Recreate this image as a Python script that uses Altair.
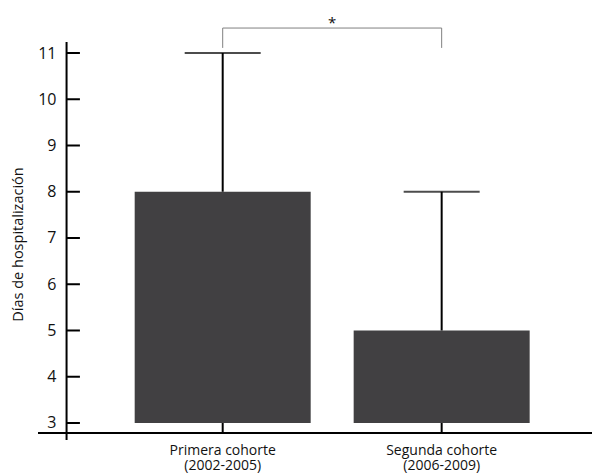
import altair as alt
import pandas as pd

categories = ["Primera cohorte", "Segunda cohorte"]
periods = ["(2002-2005)", "(2006-2009)"]
positions = [0, 1]
bar_base = [3, 3]
bar_top = [8, 5]
err_top = [11, 8]
y_ticks = [3, 4, 5, 6, 7, 8, 9, 10, 11]
sig_label = ["*"]
bracket_from = [0]
bracket_to = [1]
bracket_level = [11.54]
bracket_drop = [11.11]

Y_LO, Y_HI = 2.632, 11.238
X_LO, X_HI = -0.8206, 1.6637
AXIS_X = -0.713
AXIS_X_TICK_END = -0.652
AXIS_Y = 2.784
AXIS_Y_TICK_END = 3.0

df = pd.DataFrame({"pos": positions, "cat": categories, "per": periods,
                   "base": bar_base, "top": bar_top, "err": err_top})
ticks_df = pd.DataFrame({"t": y_ticks})
br = pd.DataFrame({"a": bracket_from, "b": bracket_to, "lvl": bracket_level,
                   "drop": bracket_drop, "lab": sig_label})
br["mid"] = (br["a"] + br["b"]) / 2
one = pd.DataFrame({"k": [0]})

xs = alt.Scale(domain=[X_LO, X_HI], nice=False, zero=False)
ys = alt.Scale(domain=[Y_LO, Y_HI], nice=False, zero=False)
FONT = "Open Sans"
INK = "#111111"

bars = alt.Chart(df).mark_bar(size=176, color="#414042").encode(
    x=alt.X("pos:Q", scale=xs, axis=None),
    y=alt.Y("base:Q", scale=ys, axis=alt.Axis(
        values=y_ticks, ticks=False, domain=False, grid=False, offset=-24,
        labelPadding=6, labelFontSize=16, labelFont=FONT, labelColor=INK,
        title="Días de hospitalización", titleFont=FONT, titleFontSize=14.5,
        titleFontWeight="normal", titleColor=INK, titleX=-37, titleY=202)),
    y2="top:Q",
)

err = alt.Chart(df).mark_rule(strokeWidth=2, color="black").encode(
    x="pos:Q", y="top:Q", y2="err:Q")
caps = alt.Chart(df).mark_tick(orient="horizontal", size=76, thickness=2,
                               color="black").encode(x="pos:Q", y="err:Q")

yaxis_line = alt.Chart(one).mark_rule(strokeWidth=2, color="black").encode(
    x=alt.X(datum=AXIS_X, type="quantitative"))
xaxis_line = alt.Chart(one).mark_rule(strokeWidth=2, color="black").encode(
    y=alt.Y(datum=AXIS_Y, type="quantitative"))
yticks = alt.Chart(ticks_df).mark_rule(strokeWidth=2, color="black").encode(
    y="t:Q", x=alt.X(datum=AXIS_X, type="quantitative"),
    x2=alt.X2(datum=AXIS_X_TICK_END))
xticks = alt.Chart(df).mark_rule(strokeWidth=2, color="black").encode(
    x="pos:Q", y=alt.Y(datum=AXIS_Y, type="quantitative"),
    y2=alt.Y2(datum=AXIS_Y_TICK_END))

xlab1 = alt.Chart(df).mark_text(baseline="alphabetic", fontSize=14,
                                font=FONT, color=INK, dy=15).encode(
    x="pos:Q", y=alt.Y(datum=Y_LO, type="quantitative"), text="cat:N")
xlab2 = alt.Chart(df).mark_text(baseline="alphabetic", fontSize=14,
                                font=FONT, color=INK, dy=30).encode(
    x="pos:Q", y=alt.Y(datum=Y_LO, type="quantitative"), text="per:N")

br_h = alt.Chart(br).mark_rule(strokeWidth=1, color="#808080").encode(
    x="a:Q", x2="b:Q", y="lvl:Q")
br_l = alt.Chart(br).mark_rule(strokeWidth=1, color="#808080").encode(
    x="a:Q", y="drop:Q", y2="lvl:Q")
br_r = alt.Chart(br).mark_rule(strokeWidth=1, color="#808080").encode(
    x="b:Q", y="drop:Q", y2="lvl:Q")
star = alt.Chart(br).mark_text(fontSize=15, font=FONT, color=INK,
                               baseline="alphabetic", dy=0).encode(
    x="mid:Q", y="lvl:Q", text="lab:N")

chart = alt.layer(
    bars, err, caps, xticks, yticks, yaxis_line, xaxis_line, xlab1, xlab2,
    br_h, br_l, br_r, star,
).properties(
    width=554, height=398,
    padding={"left": 30, "top": 34, "right": 0, "bottom": 40},
    autosize=alt.AutoSizeParams(type="none"),
).configure_view(stroke=None)

chart.save("out.html", embed_options={"renderer": "svg", "actions": False})
